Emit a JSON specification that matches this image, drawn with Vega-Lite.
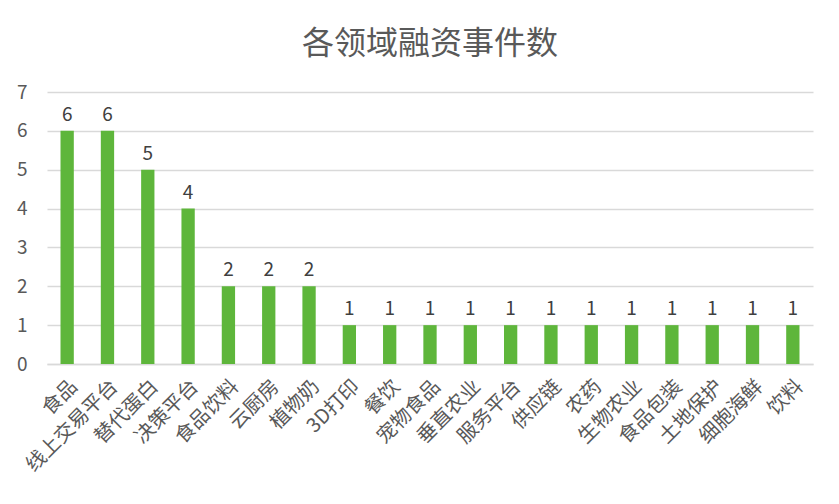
{
  "$schema": "https://vega.github.io/schema/vega-lite/v6.json",
  "autosize": {"type": "none"},
  "width": 766,
  "height": 272,
  "padding": {"left": 47, "top": 92, "right": 26, "bottom": 140},
  "background": "white",
  "title": {
    "text": "各领域融资事件数",
    "fontSize": 32,
    "font": "Noto Sans CJK SC",
    "fontWeight": "normal",
    "color": "#595959",
    "offset": 22,
    "anchor": "middle"
  },
  "data": {
    "values": [
      {"field": "食品", "count": 6},
      {"field": "线上交易平台", "count": 6},
      {"field": "替代蛋白", "count": 5},
      {"field": "决策平台", "count": 4},
      {"field": "食品饮料", "count": 2},
      {"field": "云厨房", "count": 2},
      {"field": "植物奶", "count": 2},
      {"field": "3D打印", "count": 1},
      {"field": "餐饮", "count": 1},
      {"field": "宠物食品", "count": 1},
      {"field": "垂直农业", "count": 1},
      {"field": "服务平台", "count": 1},
      {"field": "供应链", "count": 1},
      {"field": "农药", "count": 1},
      {"field": "生物农业", "count": 1},
      {"field": "食品包装", "count": 1},
      {"field": "土地保护", "count": 1},
      {"field": "细胞海鲜", "count": 1},
      {"field": "饮料", "count": 1}
    ]
  },
  "encoding": {
    "x": {
      "field": "field",
      "type": "nominal",
      "sort": null,
      "scale": {"paddingInner": 0.67, "paddingOuter": 0.335},
      "axis": {
        "title": null,
        "labelAngle": -45,
        "labelFontSize": 20,
        "labelFont": "Noto Sans CJK SC",
        "labelColor": "#595959",
        "ticks": false,
        "labelPadding": 12,
        "labelOverlap": false,
        "domainColor": "#D9D9D9",
        "domainWidth": 1.5
      }
    },
    "y": {
      "field": "count",
      "type": "quantitative",
      "scale": {"domain": [0, 7], "nice": false},
      "axis": {
        "title": null,
        "values": [0, 1, 2, 3, 4, 5, 6, 7],
        "domain": false,
        "ticks": false,
        "grid": true,
        "labelOverlap": false,
        "labelFontSize": 19,
        "labelFont": "Noto Sans CJK SC",
        "labelColor": "#595959",
        "labelPadding": 20,
        "gridColor": "#D9D9D9",
        "gridWidth": 1.5
      }
    }
  },
  "layer": [
    {"mark": {"type": "bar", "color": "#5EB63B"}},
    {
      "mark": {"type": "text", "dy": -16, "fontSize": 19, "font": "Noto Sans CJK SC", "color": "#404040"},
      "encoding": {"text": {"field": "count", "type": "quantitative"}}
    }
  ],
  "config": {"view": {"stroke": null}}
}
